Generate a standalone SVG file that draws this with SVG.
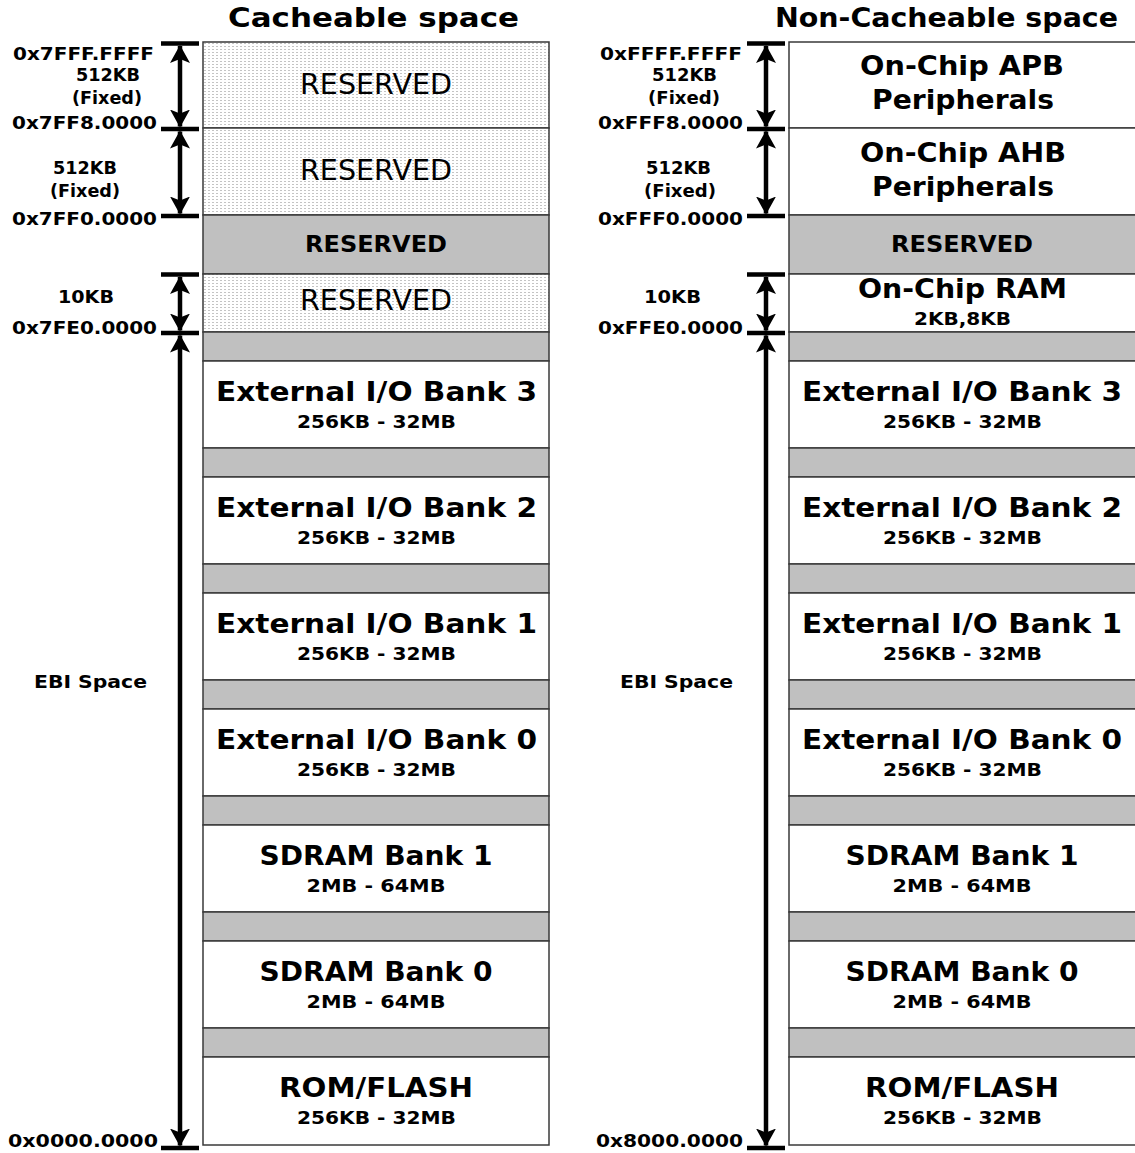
<svg xmlns="http://www.w3.org/2000/svg" width="1135" height="1153" viewBox="0 0 1135 1153">
<defs>
<pattern id="stip" width="4" height="3" patternUnits="userSpaceOnUse">
<rect width="4" height="3" fill="#ffffff"/>
<rect x="0" y="1" width="2" height="1" fill="#c4c4c4"/>
</pattern>
<marker id="ah" viewBox="0 0 18 20" refX="17" refY="10" markerWidth="18" markerHeight="20" markerUnits="userSpaceOnUse" orient="auto-start-reverse">
<path d="M0,0 L18,10 L0,20 L4,10 Z" fill="#000"/>
</marker>
<style>
text{font-family:"DejaVu Sans",Verdana,sans-serif;fill:#000;text-anchor:middle}
.t{font-size:27px;font-weight:bold}
.b{font-size:27px;font-weight:bold}
.s{font-size:17px;font-weight:bold}
.r{font-size:29px;font-weight:normal}
.rb{font-size:23px;font-weight:bold}
.l{font-size:18px;font-weight:bold}
.a{text-anchor:end}
.box{stroke:#3a3a3a;stroke-width:1.5}
.w{fill:#ffffff}
.g{fill:#c0c0c0}
.p{fill:url(#stip)}
.tk{stroke:#000;stroke-width:4.5;fill:none}
.sh{stroke:#000;stroke-width:4.5;fill:none;marker-start:url(#ah);marker-end:url(#ah)}
</style>
</defs>
<rect width="1135" height="1153" fill="#ffffff"/>
<text class="t" x="373.5" y="27" textLength="291" lengthAdjust="spacingAndGlyphs">Cacheable space</text>
<text class="t" x="946.5" y="27" textLength="343" lengthAdjust="spacingAndGlyphs">Non-Cacheable space</text>

<g id="left-map">
<g id="c-res1"><rect class="box p" x="203" y="42" width="346" height="86"/><text class="r" x="376" y="94" textLength="152" lengthAdjust="spacingAndGlyphs">RESERVED</text></g>
<g id="c-res2"><rect class="box p" x="203" y="128" width="346" height="87"/><text class="r" x="376" y="180" textLength="152" lengthAdjust="spacingAndGlyphs">RESERVED</text></g>
<g id="c-res3"><rect class="box g" x="203" y="215" width="346" height="59"/><text class="rb" x="376" y="252" textLength="142" lengthAdjust="spacingAndGlyphs">RESERVED</text></g>
<g id="c-res4"><rect class="box p" x="203" y="274" width="346" height="58"/><text class="r" x="376" y="310" textLength="152" lengthAdjust="spacingAndGlyphs">RESERVED</text></g>
<g id="c-gap1"><rect class="box g" x="203" y="332" width="346" height="29"/></g>
<g id="c-io3"><rect class="box w" x="203" y="361" width="346" height="87"/><text class="b" x="376.5" y="401" textLength="321" lengthAdjust="spacingAndGlyphs">External I/O Bank 3</text><text class="s" x="376.5" y="428" textLength="159" lengthAdjust="spacingAndGlyphs">256KB - 32MB</text></g>
<g id="c-gap2"><rect class="box g" x="203" y="448" width="346" height="29"/></g>
<g id="c-io2"><rect class="box w" x="203" y="477" width="346" height="87"/><text class="b" x="376.5" y="517" textLength="321" lengthAdjust="spacingAndGlyphs">External I/O Bank 2</text><text class="s" x="376.5" y="544" textLength="159" lengthAdjust="spacingAndGlyphs">256KB - 32MB</text></g>
<g id="c-gap3"><rect class="box g" x="203" y="564" width="346" height="29"/></g>
<g id="c-io1"><rect class="box w" x="203" y="593" width="346" height="87"/><text class="b" x="376.5" y="633" textLength="321" lengthAdjust="spacingAndGlyphs">External I/O Bank 1</text><text class="s" x="376.5" y="660" textLength="159" lengthAdjust="spacingAndGlyphs">256KB - 32MB</text></g>
<g id="c-gap4"><rect class="box g" x="203" y="680" width="346" height="29"/></g>
<g id="c-io0"><rect class="box w" x="203" y="709" width="346" height="87"/><text class="b" x="376.5" y="749" textLength="321" lengthAdjust="spacingAndGlyphs">External I/O Bank 0</text><text class="s" x="376.5" y="776" textLength="159" lengthAdjust="spacingAndGlyphs">256KB - 32MB</text></g>
<g id="c-gap5"><rect class="box g" x="203" y="796" width="346" height="29"/></g>
<g id="c-sd1"><rect class="box w" x="203" y="825" width="346" height="87"/><text class="b" x="376" y="865" textLength="233" lengthAdjust="spacingAndGlyphs">SDRAM Bank 1</text><text class="s" x="376" y="892" textLength="139" lengthAdjust="spacingAndGlyphs">2MB - 64MB</text></g>
<g id="c-gap6"><rect class="box g" x="203" y="912" width="346" height="29"/></g>
<g id="c-sd0"><rect class="box w" x="203" y="941" width="346" height="87"/><text class="b" x="376" y="981" textLength="233" lengthAdjust="spacingAndGlyphs">SDRAM Bank 0</text><text class="s" x="376" y="1008" textLength="139" lengthAdjust="spacingAndGlyphs">2MB - 64MB</text></g>
<g id="c-gap7"><rect class="box g" x="203" y="1028" width="346" height="29"/></g>
<g id="c-rom"><rect class="box w" x="203" y="1057" width="346" height="88"/><text class="b" x="376" y="1097" textLength="194" lengthAdjust="spacingAndGlyphs">ROM/FLASH</text><text class="s" x="376.5" y="1124" textLength="159" lengthAdjust="spacingAndGlyphs">256KB - 32MB</text></g>
</g>

<g id="right-map">
<g id="n-apb"><rect class="box w" x="789" y="42" width="348" height="86"/><text class="b" x="962" y="75" textLength="204" lengthAdjust="spacingAndGlyphs">On-Chip APB</text><text class="b" x="963" y="109" textLength="182" lengthAdjust="spacingAndGlyphs">Peripherals</text></g>
<g id="n-ahb"><rect class="box w" x="789" y="128" width="348" height="87"/><text class="b" x="963" y="162" textLength="206" lengthAdjust="spacingAndGlyphs">On-Chip AHB</text><text class="b" x="963" y="196" textLength="182" lengthAdjust="spacingAndGlyphs">Peripherals</text></g>
<g id="n-res"><rect class="box g" x="789" y="215" width="348" height="59"/><text class="rb" x="962" y="252" textLength="142" lengthAdjust="spacingAndGlyphs">RESERVED</text></g>
<g id="n-ram"><rect class="box w" x="789" y="274" width="348" height="58"/><text class="b" x="962.5" y="298" textLength="209" lengthAdjust="spacingAndGlyphs">On-Chip RAM</text><text class="s" x="962.5" y="325" textLength="97" lengthAdjust="spacingAndGlyphs">2KB,8KB</text></g>
<g id="n-gap1"><rect class="box g" x="789" y="332" width="348" height="29"/></g>
<g id="n-io3"><rect class="box w" x="789" y="361" width="348" height="87"/><text class="b" x="962" y="401" textLength="320" lengthAdjust="spacingAndGlyphs">External I/O Bank 3</text><text class="s" x="962.5" y="428" textLength="159" lengthAdjust="spacingAndGlyphs">256KB - 32MB</text></g>
<g id="n-gap2"><rect class="box g" x="789" y="448" width="348" height="29"/></g>
<g id="n-io2"><rect class="box w" x="789" y="477" width="348" height="87"/><text class="b" x="962" y="517" textLength="320" lengthAdjust="spacingAndGlyphs">External I/O Bank 2</text><text class="s" x="962.5" y="544" textLength="159" lengthAdjust="spacingAndGlyphs">256KB - 32MB</text></g>
<g id="n-gap3"><rect class="box g" x="789" y="564" width="348" height="29"/></g>
<g id="n-io1"><rect class="box w" x="789" y="593" width="348" height="87"/><text class="b" x="962" y="633" textLength="320" lengthAdjust="spacingAndGlyphs">External I/O Bank 1</text><text class="s" x="962.5" y="660" textLength="159" lengthAdjust="spacingAndGlyphs">256KB - 32MB</text></g>
<g id="n-gap4"><rect class="box g" x="789" y="680" width="348" height="29"/></g>
<g id="n-io0"><rect class="box w" x="789" y="709" width="348" height="87"/><text class="b" x="962" y="749" textLength="320" lengthAdjust="spacingAndGlyphs">External I/O Bank 0</text><text class="s" x="962.5" y="776" textLength="159" lengthAdjust="spacingAndGlyphs">256KB - 32MB</text></g>
<g id="n-gap5"><rect class="box g" x="789" y="796" width="348" height="29"/></g>
<g id="n-sd1"><rect class="box w" x="789" y="825" width="348" height="87"/><text class="b" x="962" y="865" textLength="233" lengthAdjust="spacingAndGlyphs">SDRAM Bank 1</text><text class="s" x="962" y="892" textLength="139" lengthAdjust="spacingAndGlyphs">2MB - 64MB</text></g>
<g id="n-gap6"><rect class="box g" x="789" y="912" width="348" height="29"/></g>
<g id="n-sd0"><rect class="box w" x="789" y="941" width="348" height="87"/><text class="b" x="962" y="981" textLength="233" lengthAdjust="spacingAndGlyphs">SDRAM Bank 0</text><text class="s" x="962" y="1008" textLength="139" lengthAdjust="spacingAndGlyphs">2MB - 64MB</text></g>
<g id="n-gap7"><rect class="box g" x="789" y="1028" width="348" height="29"/></g>
<g id="n-rom"><rect class="box w" x="789" y="1057" width="348" height="88"/><text class="b" x="962" y="1097" textLength="194" lengthAdjust="spacingAndGlyphs">ROM/FLASH</text><text class="s" x="962.5" y="1124" textLength="159" lengthAdjust="spacingAndGlyphs">256KB - 32MB</text></g>
</g>

<g id="left-labels">
<text class="l a" x="154" y="60" textLength="141" lengthAdjust="spacingAndGlyphs">0x7FFF.FFFF</text>
<text class="l" x="108" y="81" textLength="64" lengthAdjust="spacingAndGlyphs">512KB</text>
<text class="l" x="107" y="104" textLength="70" lengthAdjust="spacingAndGlyphs">(Fixed)</text>
<text class="l a" x="157" y="129" textLength="145" lengthAdjust="spacingAndGlyphs">0x7FF8.0000</text>
<text class="l" x="85" y="174" textLength="64" lengthAdjust="spacingAndGlyphs">512KB</text>
<text class="l" x="85" y="197" textLength="70" lengthAdjust="spacingAndGlyphs">(Fixed)</text>
<text class="l a" x="157" y="225" textLength="145" lengthAdjust="spacingAndGlyphs">0x7FF0.0000</text>
<text class="l" x="86" y="303" textLength="56" lengthAdjust="spacingAndGlyphs">10KB</text>
<text class="l a" x="157" y="334" textLength="145" lengthAdjust="spacingAndGlyphs">0x7FE0.0000</text>
<text class="l" x="90.5" y="688" textLength="113" lengthAdjust="spacingAndGlyphs">EBI Space</text>
<text class="l a" x="158" y="1147" textLength="150" lengthAdjust="spacingAndGlyphs">0x0000.0000</text>
</g>
<g id="right-labels">
<text class="l a" x="742" y="60" textLength="142" lengthAdjust="spacingAndGlyphs">0xFFFF.FFFF</text>
<text class="l" x="684.5" y="81" textLength="65" lengthAdjust="spacingAndGlyphs">512KB</text>
<text class="l" x="684" y="104" textLength="72" lengthAdjust="spacingAndGlyphs">(Fixed)</text>
<text class="l a" x="743" y="129" textLength="145" lengthAdjust="spacingAndGlyphs">0xFFF8.0000</text>
<text class="l" x="678.5" y="174" textLength="65" lengthAdjust="spacingAndGlyphs">512KB</text>
<text class="l" x="680" y="197" textLength="72" lengthAdjust="spacingAndGlyphs">(Fixed)</text>
<text class="l a" x="743" y="225" textLength="145" lengthAdjust="spacingAndGlyphs">0xFFF0.0000</text>
<text class="l" x="672.5" y="303" textLength="57" lengthAdjust="spacingAndGlyphs">10KB</text>
<text class="l a" x="743" y="334" textLength="145" lengthAdjust="spacingAndGlyphs">0xFFE0.0000</text>
<text class="l" x="676.5" y="688" textLength="113" lengthAdjust="spacingAndGlyphs">EBI Space</text>
<text class="l a" x="743" y="1147" textLength="147" lengthAdjust="spacingAndGlyphs">0x8000.0000</text>
</g>

<g id="connectors">
<path class="tk" d="M161,43.5H199M161,129H199M161,216H199M161,274.5H199M161,333H199M161,1148H199"/>
<line class="sh" x1="180" y1="46" x2="180" y2="126.5"/>
<line class="sh" x1="180" y1="131.5" x2="180" y2="213.5"/>
<line class="sh" x1="180" y1="277" x2="180" y2="330.5"/>
<line class="sh" x1="180" y1="335.5" x2="180" y2="1145.5"/>
<path class="tk" d="M747,43.5H785M747,129H785M747,216H785M747,274.5H785M747,333H785M747,1148H785"/>
<line class="sh" x1="766" y1="46" x2="766" y2="126.5"/>
<line class="sh" x1="766" y1="131.5" x2="766" y2="213.5"/>
<line class="sh" x1="766" y1="277" x2="766" y2="330.5"/>
<line class="sh" x1="766" y1="335.5" x2="766" y2="1145.5"/>
</g>
</svg>
